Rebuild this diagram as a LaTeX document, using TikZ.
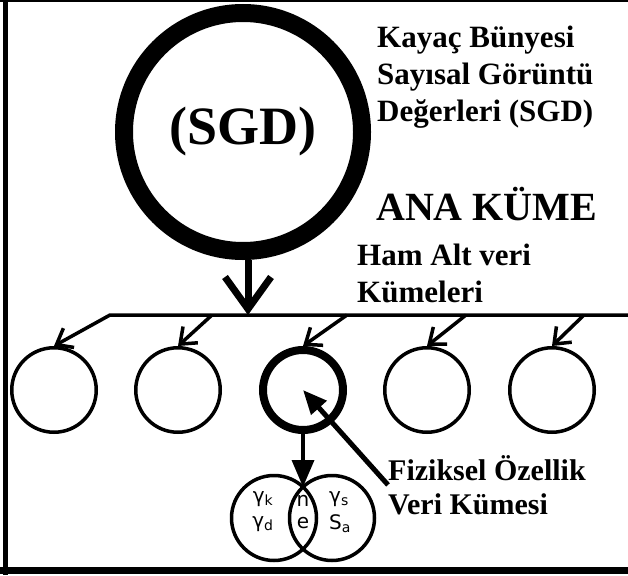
\documentclass[tikz,border=0pt]{standalone}
\usepackage{fontspec}
\setmainfont{Liberation Serif}
\newfontfamily\vennfont{DejaVu Sans}
\usetikzlibrary{arrows.meta}

\tikzset{
  lbl/.style={anchor=north west, inner sep=0pt, align=left, font=\fontsize{31}{37}\selectfont\bfseries},
  subset/.style={draw, circle, line width=3.5pt, minimum size=84.5pt, inner sep=0pt},
  branch/.style={line width=3.5pt, -{Straight Barb[length=14pt, width=22pt]}},
  venn/.style={font=\vennfont\fontsize{20}{20}\selectfont, inner sep=0pt}
}

\begin{document}
\begin{tikzpicture}[x=1pt, y=-1pt]
  \useasboundingbox (0,0) rectangle (628,575);
  \draw[line width=2pt] (0,1) -- (628,1);
  \draw[line width=5pt] (5.5,0) -- (5.5,575);
  \draw[line width=7pt] (0,570.5) -- (628,570.5);

  \node[draw, circle, line width=18pt, minimum size=238pt,
        font=\fontsize{54}{54}\selectfont\bfseries] (sgd) at (243,132) {(SGD)};
  \node[lbl] (kayac) at (377,26) {Kayaç Bünyesi\\Sayısal Görüntü\\Değerleri (SGD)};
  \node[anchor=base west, inner sep=0pt, font=\fontsize{40}{40}\selectfont\bfseries] (ana) at (376,220) {ANA KÜME};
  \node[lbl] (ham) at (357,244) {Ham Alt veri\\Kümeleri};

  \coordinate (hub) at (248,315);
  \coordinate (bl) at (110,315);
  \coordinate (br) at (628,315);
  \draw[line width=7pt, -{Straight Barb[length=32pt, width=46pt]}] (sgd.south -| hub) -- (hub);

  \foreach \i/\x in {1/54, 2/178, 4/427, 5/552}
    \node[subset] (c\i) at (\x,390) {};
  \node[subset, line width=8pt, minimum size=80pt] (c3) at (303,390) {};

  \draw[branch] (br) -- (bl) -- (c1.north);
  \foreach \i/\x in {2/212, 3/347, 4/466, 5/584}
    \draw[branch] (\x,315) -- (c\i.north);

  \node[subset, minimum size=85pt] (vl) at (274,518) {};
  \node[subset, minimum size=85pt] (vr) at (332,518) {};
  \coordinate (vt) at (303,487);
  \draw[line width=3.5pt, -{Triangle[length=27pt, width=22pt]}] (c3.south) -- (vt);

  \node[venn] (gk) at (263,499) {γ\textsubscript{k}};
  \node[venn] (gd) at (263,524) {γ\textsubscript{d}};
  \node[venn] (nn) at (303,501) {n};
  \node[venn] (ee) at (303,523) {e};
  \node[venn] (gs) at (339,499) {γ\textsubscript{s}};
  \node[venn] (sa) at (340,524) {S\textsubscript{a}};

  \node[lbl, font=\fontsize{30}{34}\selectfont\bfseries] (fiz) at (388,455) {Fiziksel Özellik\\Veri Kümesi};
  \draw[line width=5pt, -{Triangle[length=24pt, width=20pt]}] (fiz.west) -- (c3.center);
\end{tikzpicture}
\end{document}
